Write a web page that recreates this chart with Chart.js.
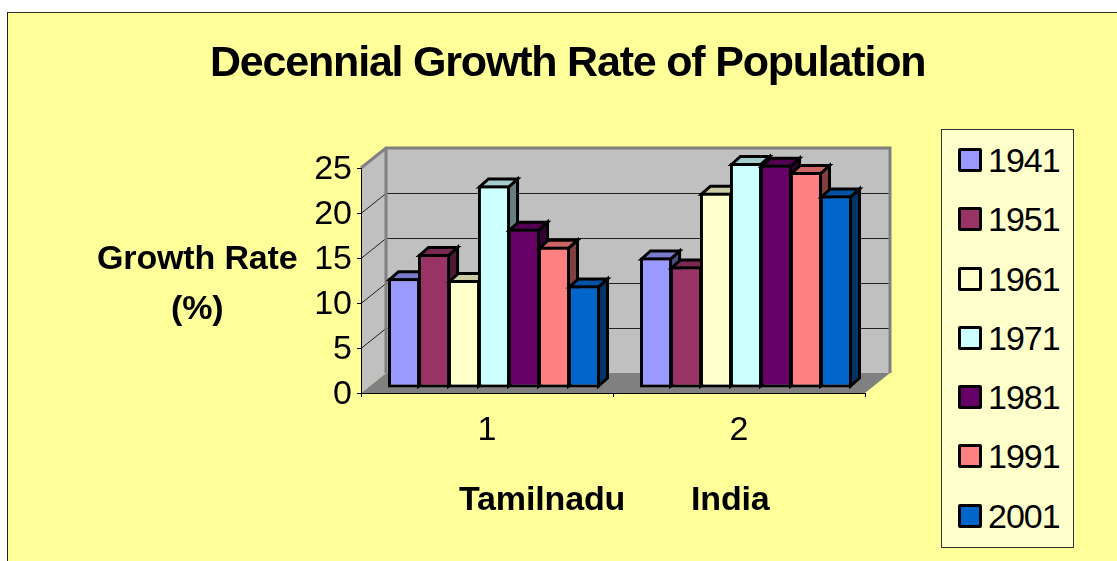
<!DOCTYPE html>
<html>
<head>
<meta charset="utf-8">
<title>Decennial Growth Rate of Population</title>
<script src="https://cdn.jsdelivr.net/npm/chart.js@4"></script>
<style>
  html, body { margin: 0; padding: 0; background: #fff; overflow: hidden; }
  #frame { position: absolute; left: 7px; top: 12px; width: 1110px; height: 549px; background: #ffff99;
           border-left: 1px solid #222; border-top: 1px solid #333; box-sizing: border-box; }
  canvas { position: absolute; left: 0; top: 0; }
  .txt { position: absolute; font-family: "Liberation Sans", Arial, sans-serif; color: #000; white-space: nowrap; line-height: 1; }
  .b { font-weight: bold; font-size: 34px; letter-spacing: -0.15px; }
  #legend { position: absolute; left: 941px; top: 129px; width: 133px; height: 419px; box-sizing: border-box;
            background: #ffffcc; border: 1px solid #333; }
  .sw { position: absolute; left: 958px; width: 24px; height: 24px; box-sizing: border-box; border: 3px solid #000; border-radius: 2px; }
</style>
</head>
<body>
<div id="frame"></div>
<canvas id="chart" width="1117" height="561"></canvas>
<div id="legend"></div>
<div class="txt" style="left:210px;top:40px;font-weight:bold;font-size:43px;letter-spacing:-1.2px">Decennial Growth Rate of Population</div>
<div class="txt b" style="left:97px;top:240px">Growth Rate</div>
<div class="txt b" style="left:171px;top:290px">(%)</div>
<div class="txt b" style="left:459px;top:481px">Tamilnadu</div>
<div class="txt b" style="left:691px;top:481px">India</div>
<script>
const categories = ['1', '2'];
const years = ['1941', '1951', '1961', '1971', '1981', '1991', '2001'];
const tamilnadu = [12.2, 14.9, 12.0, 22.5, 17.7, 15.7, 11.4];
const india = [14.5, 13.5, 21.7, 25.0, 24.8, 24.0, 21.4];
const colors = ['#9999ff', '#993366', '#ffffcc', '#ccffff', '#660066', '#ff8080', '#0066cc'];

function shade(hex, f) {
    const n = parseInt(hex.slice(1), 16);
    return 'rgb(' + Math.round((n >> 16) * f) + ',' + Math.round(((n >> 8) & 255) * f) + ',' + Math.round((n & 255) * f) + ')';
}

function poly(ctx, pts, fill, stroke, lw) {
    ctx.beginPath();
    pts.forEach((p, i) => i ? ctx.lineTo(p[0], p[1]) : ctx.moveTo(p[0], p[1]));
    ctx.closePath();
    if (fill) { ctx.fillStyle = fill; ctx.fill(); }
    if (stroke) { ctx.strokeStyle = stroke; ctx.lineWidth = lw; ctx.stroke(); }
}

// offsets of the fake 3D box
const wallDx = 25, wallDy = -20;
const barDx = 7, barDy = -5;
const faceDx = 9, faceDy = -8;

const box3d = {
    id: 'box3d',
    beforeDraw(chart) {
        const ctx = chart.ctx;
        const { left, right, top, bottom } = chart.chartArea;
        const y = chart.scales.y;
        ctx.save();
        // floor, side wall, back wall
        poly(ctx, [[left, bottom], [left + wallDx, bottom + wallDy], [right + wallDx, bottom + wallDy], [right, bottom]], '#808080');
        poly(ctx, [[left, bottom], [left + wallDx, bottom + wallDy], [left + wallDx, top + wallDy], [left, top]], '#c0c0c0');
        ctx.fillStyle = '#c0c0c0';
        ctx.fillRect(left + wallDx, top + wallDy, right - left, bottom - top);
        // grid lines
        y.ticks.forEach(t => {
            if (t.value === 0 || t.value === 25) return;
            const py = Math.round(y.getPixelForValue(t.value)) + 0.5;
            ctx.strokeStyle = '#222';
            ctx.lineWidth = 1;
            ctx.beginPath();
            ctx.moveTo(left, py);
            ctx.lineTo(left + wallDx, py + wallDy);
            ctx.lineTo(right + wallDx, py + wallDy);
            ctx.stroke();
        });
        // grey wall edges
        ctx.strokeStyle = '#808080';
        ctx.lineWidth = 3;
        ctx.beginPath();
        ctx.moveTo(left, top);
        ctx.lineTo(left + wallDx, top + wallDy);
        ctx.lineTo(right + wallDx, top + wallDy);
        ctx.lineTo(right + wallDx, bottom + wallDy);
        ctx.moveTo(left + wallDx, top + wallDy);
        ctx.lineTo(left + wallDx, bottom + wallDy);
        ctx.stroke();
        ctx.restore();
    },
    // bars are painted left to right so each one hides its neighbour's side
    beforeDatasetsDraw(chart) {
        const ctx = chart.ctx;
        ctx.save();
        ctx.translate(barDx, barDy);
        ctx.lineJoin = 'miter';
        chart.data.datasets.forEach((ds, i) => {
            const meta = chart.getDatasetMeta(i);
            meta.data.forEach(el => {
                const p = el.getProps(['x', 'y', 'base', 'width'], true);
                const l = p.x - p.width / 2 + 1.5, r = p.x + p.width / 2 - 1.5;
                const t = p.y + 1.5, b = p.base - 1.5;
                poly(ctx, [[r, t], [r + faceDx, t + faceDy], [r + faceDx, b + faceDy], [r, b]], shade(colors[i], 0.5), '#000', 3);
                poly(ctx, [[l, t], [l + faceDx, t + faceDy], [r + faceDx, t + faceDy], [r, t]], shade(colors[i], 0.8), '#000', 3);
            });
            meta.controller.draw();
        });
        ctx.restore();
        return false;
    }
};

const datasets = years.map((year, i) => ({
    label: year,
    data: [tamilnadu[i], india[i]],
    backgroundColor: colors[i],
    borderColor: '#000',
    borderWidth: 3,
    borderSkipped: false,
    clip: false
}));

new Chart(document.getElementById('chart'), {
    type: 'bar',
    data: { labels: categories, datasets: datasets },
    options: {
        responsive: false,
        animation: false,
        categoryPercentage: 0.833,
        barPercentage: 1.07,
        layout: { padding: { top: 168, right: 252 } },
        plugins: { legend: { display: false }, title: { display: false }, tooltip: { enabled: false } },
        scales: {
            x: {
                afterFit(s) { s.height = 168; },
                grid: { drawOnChartArea: false, tickLength: 4, color: '#000' },
                border: { color: '#000' },
                ticks: { color: '#000', padding: 13, maxRotation: 0, font: { family: '"Liberation Sans"', size: 34 } }
            },
            y: {
                min: 0,
                max: 25,
                afterFit(s) { s.width = 361; },
                grid: { drawOnChartArea: false, tickLength: 4, color: '#000' },
                border: { color: '#000' },
                ticks: { stepSize: 5, color: '#000', padding: 5, labelOffset: 2, font: { family: '"Liberation Sans"', size: 34 } }
            }
        }
    },
    plugins: [box3d]
});

// legend box built from the same arrays
const legendY = [160, 219, 279, 338, 397, 456, 516];
years.forEach((year, i) => {
    const sw = document.createElement('div');
    sw.className = 'sw';
    sw.style.top = (legendY[i] - 12) + 'px';
    sw.style.background = colors[i];
    document.body.appendChild(sw);
    const t = document.createElement('div');
    t.className = 'txt';
    t.style.cssText = 'left:988px;font-size:34px;letter-spacing:-1px;top:' + (legendY[i] - 17) + 'px';
    t.textContent = year;
    document.body.appendChild(t);
});
</script>
</body>
</html>
